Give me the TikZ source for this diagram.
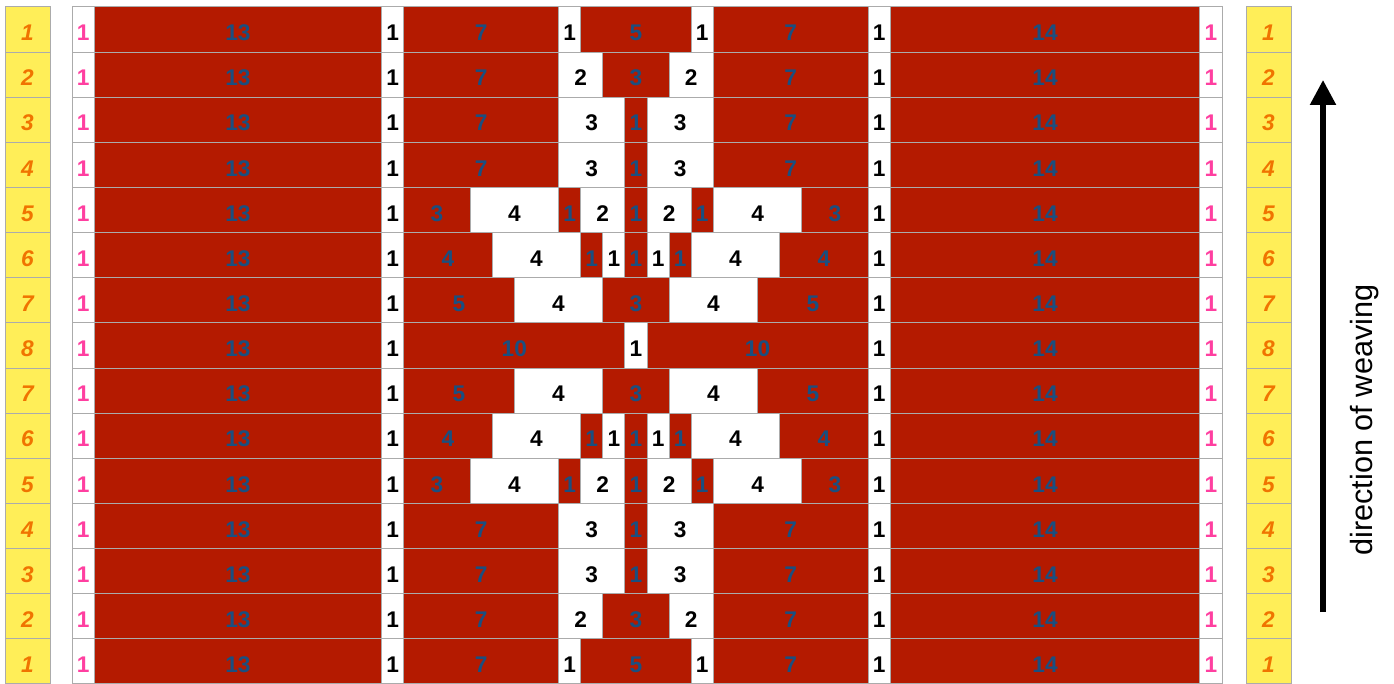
\documentclass[tikz,border=0pt]{standalone}
\usepackage{fontspec}
\setmainfont{Liberation Sans}
\usetikzlibrary{arrows.meta}

\definecolor{weavered}{HTML}{B41A00}
\definecolor{weaveblue}{HTML}{1A4F80}
\definecolor{rowyellow}{HTML}{FFEE58}
\definecolor{roworange}{HTML}{F07400}
\definecolor{edgepink}{HTML}{FF3FA0}
\definecolor{gridgray}{HTML}{ABABAB}
% fill and text colour per kind of cell: r = red, w = white, p = pink edge
\colorlet{bgr}{weavered}
\colorlet{bgw}{white}
\colorlet{bgp}{white}
\colorlet{fgr}{weaveblue}
\colorlet{fgw}{black}
\colorlet{fgp}{edgepink}

\tikzset{
  cell/.style={draw=gridgray, line width=0.75pt, inner sep=0pt,
    minimum height=33.85pt, text height=16.7pt, text depth=0pt,
    font=\fontsize{17}{19}\selectfont\bfseries},
  sidecell/.style={cell, fill=rowyellow, text=roworange, minimum width=33.75pt,
    font=\fontsize{17}{19}\selectfont\bfseries\itshape},
}

\begin{document}
\begin{tikzpicture}[x=0.75pt, y=-0.75pt]
\useasboundingbox (0,0) rectangle (1394,684);
\def\unitw{22.115}
\def\rowh{45.13}
% middle part of each row
\def\rowA{7/r,1/w,5/r,1/w,7/r}
\def\rowB{7/r,2/w,3/r,2/w,7/r}
\def\rowC{7/r,3/w,1/r,3/w,7/r}
\def\rowE{3/r,4/w,1/r,2/w,1/r,2/w,1/r,4/w,3/r}
\def\rowF{4/r,4/w,1/r,1/w,1/r,1/w,1/r,4/w,4/r}
\def\rowG{5/r,4/w,3/r,4/w,5/r}
\def\rowH{10/r,1/w,10/r}

\foreach \row/\lab/\pat in {1/1/\rowA, 2/2/\rowB, 3/3/\rowC, 4/4/\rowC,
    5/5/\rowE, 6/6/\rowF, 7/7/\rowG, 8/8/\rowH, 9/7/\rowG, 10/6/\rowF,
    11/5/\rowE, 12/4/\rowC, 13/3/\rowC, 14/2/\rowB, 15/1/\rowA}{
  \pgfmathsetmacro{\yc}{7+(\row-0.5)*\rowh}
  \node[sidecell] (lft-\row) at (27.5,\yc) {\lab};
  \node[sidecell] (rgt-\row) at (1268.5,\yc) {\lab};
  \edef\fullrow{1/p,13/r,1/w,\pat,1/w,14/r,1/p}
  \foreach \n/\kind [count=\idx, evaluate=\n as \xe using \xs+\n,
      remember=\xe as \xs (initially 0)] in \fullrow
    \node[cell, fill=bg\kind, text=fg\kind, minimum width=\n*\unitw*0.75pt]
      (c-\row-\idx) at ({72+(\xs+\n/2)*\unitw},\yc) {\n};
}

\coordinate (arrowbot) at (1323,612);
\coordinate (arrowtop) at (1323,80);
\draw[line width=4pt, -{Triangle[width=18.75pt, length=18.75pt]}] (arrowbot) -- (arrowtop);
\node[rotate=90, font=\fontsize{23}{26}\selectfont] (weaving) at (1365,420) {direction of weaving};
\end{tikzpicture}
\end{document}
